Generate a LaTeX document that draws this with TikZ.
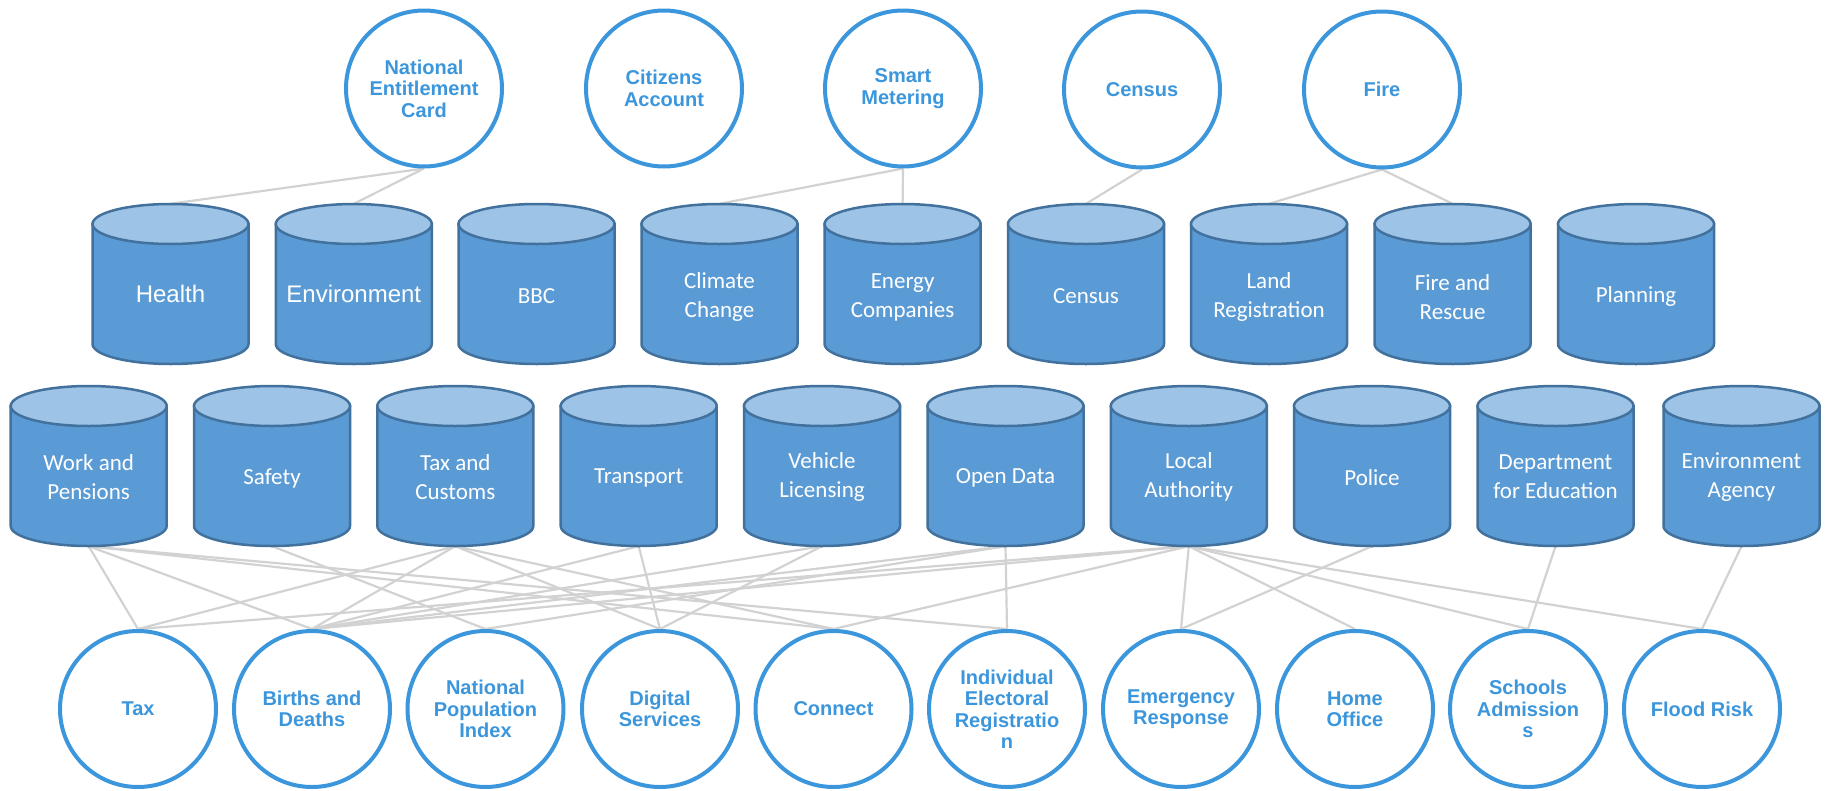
\documentclass[tikz,border=0pt]{standalone}
\usepackage{fontspec}
\setmainfont{Liberation Sans}
\newfontfamily\calfont{Carlito}
\pgfdeclarelayer{bg}
\pgfsetlayers{bg,main}
\definecolor{cblue}{RGB}{60,150,220}
\definecolor{cylbody}{RGB}{91,155,213}
\definecolor{cyltop}{RGB}{157,195,230}
\definecolor{cylline}{RGB}{65,113,156}
\definecolor{linkgray}{RGB}{210,210,210}
\tikzset{
  svc/.style={circle, draw=cblue, line width=4pt, fill=white, minimum size=156pt, inner sep=0pt,
    align=center, text=cblue, font=\fontsize{20}{21.5}\selectfont\bfseries},
  cylnode/.style={rectangle, minimum width=158pt, minimum height=160pt, inner sep=0pt},
  cyllabel/.style={text=white, align=center, inner sep=0pt, font=\calfont\fontsize{23}{29}\selectfont},
  biglabel/.style={text=white, align=center, inner sep=0pt, font=\fontsize{24}{29}\selectfont},
  link/.style={draw=linkgray, line width=2.2pt},
  cylshape/.style={fill=cylbody, draw=cylline, line width=2.5pt},
  cyltopshape/.style={fill=cyltop, draw=cylline, line width=2.5pt}
}
\newcommand\dbcyl[6]{%
  \filldraw[cylshape] (#2-78,#3-60) -- (#2-78,#3+60) arc[start angle=180,end angle=0,x radius=78,y radius=20] -- (#2+78,#3-60) -- cycle;
  \filldraw[cyltopshape] (#2,#3-60) ellipse[x radius=78,y radius=20];
  \node[cylnode] (#1) at (#2,#3) {};
  \node[#4] (#1-l) at (#2,#3+#5) {#6};
}
\begin{document}
\begin{tikzpicture}[x=1pt,y=-1pt]
\useasboundingbox (0,0) rectangle (1831,790);
% top services
\node[svc] (nec) at (424,88.5) {National\\Entitlement\\Card};
\node[svc] (cit) at (664,88.5) {Citizens\\Account};
\node[svc] (smart) at (903,88.5) {Smart\\Metering};
\node[svc] (census) at (1142,89.5) {Census};
\node[svc] (fire) at (1382,89.5) {Fire};
% row 1 databases
\dbcyl{health}{170.5}{284}{biglabel}{10}{Health}
\dbcyl{envt}{353.8}{284}{biglabel}{10}{Environment}
\dbcyl{bbc}{536.5}{284}{cyllabel}{12}{BBC}
\dbcyl{climate}{719.5}{284}{cyllabel}{13}{Climate\\Change}
\dbcyl{energy}{902.6}{284}{cyllabel}{13}{Energy\\Companies}
\dbcyl{censusdb}{1086}{284}{cyllabel}{12}{Census}
\dbcyl{land}{1269}{284}{cyllabel}{13}{Land\\Registration}
\dbcyl{firer}{1452.6}{284}{cyllabel}{13}{Fire and\\Rescue}
\dbcyl{planning}{1636}{284}{cyllabel}{12}{Planning}
% row 2 databases
\dbcyl{work}{88.7}{466}{cyllabel}{11}{Work and\\Pensions}
\dbcyl{safety}{272}{466}{cyllabel}{12}{Safety}
\dbcyl{taxc}{455.3}{466}{cyllabel}{11}{Tax and\\Customs}
\dbcyl{transport}{638.7}{466}{cyllabel}{12}{Transport}
\dbcyl{vehicle}{822}{466}{cyllabel}{11}{Vehicle\\Licensing}
\dbcyl{opendata}{1005.5}{466}{cyllabel}{12}{Open Data}
\dbcyl{local}{1188.8}{466}{cyllabel}{11}{Local\\Authority}
\dbcyl{police}{1372}{466}{cyllabel}{12}{Police}
\dbcyl{dfe}{1555.5}{466}{cyllabel}{11}{Department\\for Education}
\dbcyl{ea}{1741.5}{466}{cyllabel}{11}{Environment\\Agency}
% bottom services
\node[svc] (tax) at (138,709) {Tax};
\node[svc] (births) at (312,709) {Births and\\Deaths};
\node[svc] (npi) at (485.5,709) {National\\Population\\Index};
\node[svc] (digital) at (660,709) {Digital\\Services};
\node[svc] (connect) at (833.5,709) {Connect};
\node[svc] (ier) at (1007,709) {Individual\\Electoral\\Registratio\\n};
\node[svc] (emerg) at (1181,709) {Emergency\\Response};
\node[svc] (home) at (1355,709) {Home\\Office};
\node[svc] (schools) at (1528,709) {Schools\\Admission\\s};
\node[svc] (flood) at (1702,709) {Flood Risk};
\begin{pgfonlayer}{bg}
% top links
\draw[link] (nec.south) -- (health.north);
\draw[link] (nec.south) -- (envt.north);
\draw[link] (smart.south) -- (climate.north);
\draw[link] (smart.south) -- (energy.north);
\draw[link] (census.south) -- (censusdb.north);
\draw[link] (fire.south) -- (land.north);
\draw[link] (fire.south) -- (firer.north);
% bottom links
\draw[link] (work.south) -- (tax.north);
\draw[link] (work.south) -- (births.north);
\draw[link] (work.south) -- (connect.north);
\draw[link] (work.south) -- (ier.north);
\draw[link] (safety.south) -- (npi.north);
\draw[link] (taxc.south) -- (tax.north);
\draw[link] (taxc.south) -- (births.north);
\draw[link] (taxc.south) -- (digital.north);
\draw[link] (taxc.south) -- (connect.north);
\draw[link] (transport.south) -- (births.north);
\draw[link] (transport.south) -- (digital.north);
\draw[link] (vehicle.south) -- (births.north);
\draw[link] (vehicle.south) -- (digital.north);
\draw[link] (opendata.south) -- (births.north);
\draw[link] (opendata.south) -- (npi.north);
\draw[link] (opendata.south) -- (ier.north);
\draw[link] (local.south) -- (tax.north);
\draw[link] (local.south) -- (births.north);
\draw[link] (local.south) -- (connect.north);
\draw[link] (local.south) -- (emerg.north);
\draw[link] (local.south) -- (home.north);
\draw[link] (local.south) -- (schools.north);
\draw[link] (local.south) -- (flood.north);
\draw[link] (police.south) -- (emerg.north);
\draw[link] (dfe.south) -- (schools.north);
\draw[link] (ea.south) -- (flood.north);
\end{pgfonlayer}
\end{tikzpicture}
\end{document}
